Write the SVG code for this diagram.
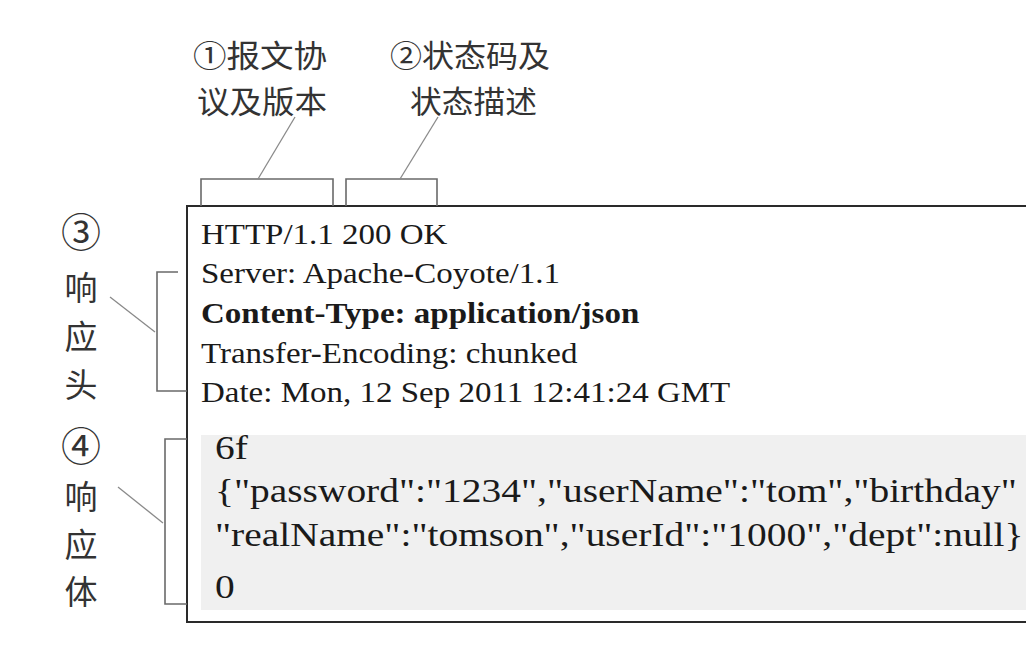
<svg xmlns="http://www.w3.org/2000/svg" width="1026" height="654" viewBox="0 0 1026 654">
<style>
.cjk{font-family:"Noto Sans CJK SC","Noto Sans",sans-serif;font-size:31px;fill:#333}
.v{font-size:33px}
.num{font-size:40px}
.hd{font-family:"Liberation Serif","Times New Roman",serif;font-size:30px;fill:#1a1a1a}
.bd{font-family:"Liberation Serif","Times New Roman",serif;font-size:34px;fill:#1a1a1a}
.br{fill:none;stroke:#6a6a6a;stroke-width:1.6}
.ld{fill:none;stroke:#8a8a8a;stroke-width:1.3}
</style>
<rect width="1026" height="654" fill="#ffffff"/>
<g id="label-protocol">
<text class="cjk" x="193" y="67" textLength="134" lengthAdjust="spacingAndGlyphs">①报文协</text>
<text class="cjk" x="197" y="113" textLength="130" lengthAdjust="spacingAndGlyphs">议及版本</text>
</g>
<g id="label-status">
<text class="cjk" x="390" y="67" textLength="160" lengthAdjust="spacingAndGlyphs">②状态码及</text>
<text class="cjk" x="410" y="113" textLength="127" lengthAdjust="spacingAndGlyphs">状态描述</text>
</g>
<g id="label-header" text-anchor="middle">
<text class="cjk num" x="81" y="247">③</text>
<text class="cjk v" x="81" y="300">响</text>
<text class="cjk v" x="81" y="349">应</text>
<text class="cjk v" x="81" y="397">头</text>
</g>
<g id="label-body" text-anchor="middle">
<text class="cjk num" x="81" y="461">④</text>
<text class="cjk v" x="81" y="509">响</text>
<text class="cjk v" x="81" y="557">应</text>
<text class="cjk v" x="81" y="604">体</text>
</g>
<g id="message">
<rect x="187" y="206" width="860" height="416" fill="#ffffff" stroke="#2a2a2a" stroke-width="2"/>
<rect x="201" y="435" width="840" height="175" fill="#f0f0f0"/>
<g class="hd">
<text transform="translate(201 244) scale(1.1 1)">HTTP/1.1 200 OK</text>
<text transform="translate(201 283) scale(1.1 1)">Server: Apache-Coyote/1.1</text>
<text transform="translate(201 323) scale(1.1 1)" font-weight="bold">Content-Type: application/json</text>
<text transform="translate(201 363) scale(1.1 1)">Transfer-Encoding: chunked</text>
<text transform="translate(201 402) scale(1.1 1)">Date: Mon, 12 Sep 2011 12:41:24 GMT</text>
</g>
<g class="bd">
<text transform="translate(215 459) scale(1.16 1)">6f</text>
<text transform="translate(215 502) scale(1.16 1)">{"password":"1234","userName":"tom","birthday"</text>
<text transform="translate(215 546) scale(1.16 1)">"realName":"tomson","userId":"1000","dept":null}</text>
<text transform="translate(215 598) scale(1.16 1)">0</text>
</g>
</g>
<g id="connectors">
<path class="br" d="M201 206 V179 H333 V206"/>
<path class="br" d="M346 206 V179 H437 V206"/>
<path class="br" d="M178 272 H157 V391 H187"/>
<path class="br" d="M187 439 H165 V604 H187"/>
<line class="ld" x1="295" y1="117" x2="258" y2="179"/>
<line class="ld" x1="438" y1="117" x2="400" y2="179"/>
<line class="ld" x1="110" y1="297" x2="155" y2="332"/>
<line class="ld" x1="118" y1="487" x2="163" y2="523"/>
</g>
</svg>
